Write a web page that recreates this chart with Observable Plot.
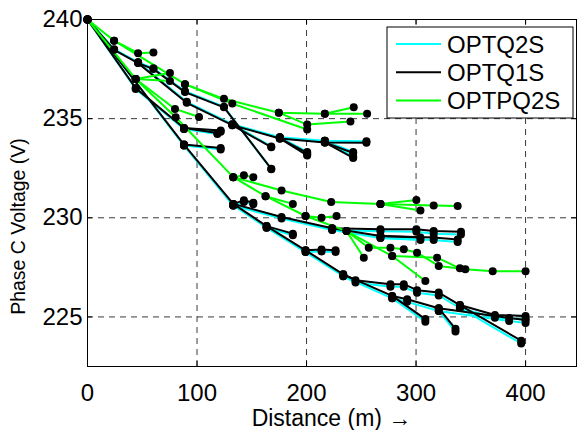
<!DOCTYPE html>
<html>
<head>
<meta charset="utf-8">
<script src="https://cdn.jsdelivr.net/npm/d3@7"></script>
<script src="https://cdn.jsdelivr.net/npm/@observablehq/plot@0.6"></script>
<style>
  html, body { margin: 0; padding: 0; background: white; }
  #chart { width: 577px; height: 430px; }
</style>
</head>
<body>
<div id="chart"></div>
<script>
// ---- Data (distance in m, voltage in V) ----
const seriesNames = ["OPTQ2S", "OPTQ1S", "OPTPQ2S"];
const seriesColors = ["#00ffff", "#000000", "#00ff00"];
const xTicks = [0, 100, 200, 300, 400];
const yTicks = [225, 230, 235, 240];

// OPTQ1S (black) branches
const q1sPaths = [
  [[0,240],[24.3,238.47],[46.2,237.8],[60.2,237.5],[89,236.34],[124.6,235.57],[167.8,232.47]],
  [[46.2,237.8],[90.6,235.8],[132.2,234.67],[175.6,234.0],[216.7,233.8],[254.7,233.78]],
  [[216.7,233.8],[242.6,233.27]],
  [[216.7,233.8],[242.6,233.02]],
  [[175.6,234.0],[200.6,233.27]],
  [[175.6,234.0],[200.6,233.14]],
  [[132.2,234.67],[167.8,233.56]],
  [[0,240],[44,236.54],[88.1,234.53],[118.6,234.28]],
  [[88.1,234.53],[121.6,234.4]],
  [[0,240],[88.1,233.69],[133.1,230.7],[177.2,230.04],[223.4,229.47],[267.5,229.42],[300.3,229.42],[316.1,229.33],[341,229.3]],
  [[88.1,233.69],[121.6,233.52]],
  [[133.1,230.7],[142.8,230.88],[151.4,230.76]],
  [[223.4,229.47],[267.5,229.08],[316.1,229.0],[338,228.9]],
  [[267.5,229.08],[304,229.0]],
  [[133.1,230.7],[163.5,229.58],[199.1,228.36],[233.5,227.15],[278.2,226.06],[308.5,224.89]],
  [[163.5,229.58],[187.5,229.2]],
  [[199.1,228.36],[213.7,228.4],[226.5,228.36]],
  [[233.5,227.15],[244.7,226.85],[276.6,226.65],[288.8,226.65],[300.9,226.35],[320.7,226.23],[340,225.6],[372,225.1],[400,225.05]],
  [[278.2,226.06],[291.9,225.89],[320.7,225.44],[336,224.4]],
  [[320.7,225.44],[385,224.95],[400,224.85]],
  [[340,225.6],[396,223.8]]
];

// OPTQ2S (cyan) branches
const q2sPaths = [
  [[0,240],[24.3,238.5],[46.2,237.84],[60.2,237.54],[89,236.38],[124.6,235.6],[167.8,232.45]],
  [[46.2,237.84],[90.6,235.85],[132.2,234.72],[175.6,234.06],[216.7,233.88],[254.7,233.86]],
  [[216.7,233.88],[242.6,233.32]],
  [[216.7,233.88],[242.6,233.08]],
  [[175.6,234.06],[200.6,233.32]],
  [[175.6,234.06],[200.6,233.2]],
  [[132.2,234.72],[167.8,233.6]],
  [[0,240],[44,236.5],[88.1,234.48],[118.6,234.22]],
  [[88.1,234.48],[121.6,234.34]],
  [[0,240],[88.1,233.64],[133.1,230.62],[177.2,229.96],[223.4,229.38],[267.5,229.32],[300.3,229.3],[316.1,229.2],[341,229.16]],
  [[88.1,233.64],[121.6,233.45]],
  [[133.1,230.62],[142.8,230.8],[151.4,230.68]],
  [[223.4,229.38],[267.5,228.98],[316.1,228.88],[338,228.78]],
  [[267.5,228.98],[304,228.88]],
  [[133.1,230.62],[163.5,229.5],[199.1,228.27],[233.5,227.05],[278.2,225.94],[308.5,224.76]],
  [[163.5,229.5],[187.5,229.12]],
  [[199.1,228.27],[213.7,228.3],[226.5,228.27]],
  [[233.5,227.05],[244.7,226.74],[276.6,226.52],[288.8,226.52],[300.9,226.22],[320.7,226.08],[340,225.45],[372,224.96],[400,224.9]],
  [[278.2,225.94],[291.9,225.76],[320.7,225.3],[336,224.26]],
  [[320.7,225.3],[385,224.8],[400,224.7]],
  [[340,225.45],[396,223.66]]
];

// OPTPQ2S (green) branches
const pq2sPaths = [
  [[0,240],[24.3,238.93],[46.2,238.3],[60.2,238.34]],
  [[24.3,238.93],[89,236.74],[124.6,236.0],[174.7,235.3],[216.7,235.25],[255.3,235.25]],
  [[216.7,235.25],[243.1,235.57]],
  [[89,236.74],[132.2,235.76],[200.6,234.45]],
  [[174.7,235.3],[200.6,234.7],[240.1,234.85]],
  [[0,240],[44,237.0],[75.3,237.3]],
  [[44,237.0],[75.3,236.9]],
  [[44,237.0],[79.9,235.49],[101.8,235.08]],
  [[44,237.0],[80.5,235.07],[133.1,232.05],[177.2,231.38],[222.5,230.8],[267.5,230.7],[300.3,230.9]],
  [[267.5,230.7],[316.1,230.62],[338,230.6]],
  [[267.5,230.7],[304,230.37]],
  [[133.1,232.05],[142.8,232.15],[151.4,232.05]],
  [[133.1,232.05],[162.6,231.09],[187.5,230.7]],
  [[162.6,231.09],[199.1,230.09],[213.7,230.0],[227.4,230.09]],
  [[199.1,230.09],[236.5,229.33],[256.8,228.49],[276.6,228.49],[288.8,228.41],[300.9,228.24],[320.7,227.57],[345,227.4],[370,227.3],[400,227.3]],
  [[236.5,229.33],[278.2,228.07],[308.5,226.81]],
  [[278.2,228.07],[319.2,227.99],[340,227.45]],
  [[236.5,229.33],[252.3,227.99]]
];

// ---- Build table ----
const allPaths = [q2sPaths, q1sPaths, pq2sPaths];
const rows = [];
allPaths.forEach((paths, s) => {
  paths.forEach((p, i) => {
    p.forEach(([x, y]) => rows.push({series: seriesNames[s], path: s + "-" + i, x, y}));
  });
});

const W = 577, H = 430;
const mL = 87, mR = 1, mT = 19, mB = 64;
const innerW = W - mL - mR, innerH = H - mT - mB;
const tick = 5;
const font = "'Liberation Sans', Arial, Helvetica, sans-serif";

const chart = Plot.plot({
  width: W,
  height: H,
  marginLeft: mL, marginRight: mR, marginTop: mT, marginBottom: mB,
  style: {fontFamily: font, fontSize: "24px", background: "white", color: "black"},
  x: {domain: [0, 446.5], label: null},
  y: {domain: [222.5, 240], label: null},
  marks: [
    // dashed grid
    Plot.ruleX(xTicks.filter(d => d > 0), {x: d => d, stroke: "#3a3a3a", strokeWidth: 1, strokeDasharray: "6,5"}),
    Plot.ruleY(yTicks.filter(d => d < 240), {y: d => d, stroke: "#3a3a3a", strokeWidth: 1, strokeDasharray: "6,5"}),
    // series lines
    ...seriesNames.map((name, s) =>
      Plot.line(rows.filter(r => r.series === name), {x: "x", y: "y", z: "path", stroke: seriesColors[s], strokeWidth: 2, strokeLinejoin: "round"})
    ),
    // node markers
    Plot.dot(rows, {x: "x", y: "y", r: 4, fill: "black", stroke: "none"}),
    // frame
    Plot.frame({stroke: "black", strokeWidth: 1}),
    // inward ticks
    Plot.ruleX(xTicks, {x: d => d, insetTop: innerH - tick, stroke: "black"}),
    Plot.ruleX(xTicks, {x: d => d, insetBottom: innerH - tick, stroke: "black"}),
    Plot.ruleY(yTicks, {y: d => d, insetRight: innerW - tick, stroke: "black"}),
    Plot.ruleY(yTicks, {y: d => d, insetLeft: innerW - tick, stroke: "black"}),
    // tick labels
    Plot.axisX({ticks: xTicks, tickSize: 0, tickPadding: 17, tickFormat: d => String(d), fontSize: 24, label: null}),
    Plot.axisY({ticks: yTicks, tickSize: 0, tickPadding: 5, tickFormat: d => String(d), fontSize: 24, label: null})
  ]
});

document.getElementById("chart").appendChild(chart);

// axis titles and legend added to the same SVG
const svg = d3.select(chart);
svg.append("text")
  .attr("x", mL + innerW / 2).attr("y", 426)
  .attr("text-anchor", "middle")
  .style("font-family", font).style("font-size", "23px").attr("fill", "black")
  .text("Distance (m) \u2192");
svg.append("text")
  .attr("transform", `translate(25,${mT + innerH / 2 + 34}) rotate(-90)`)
  .attr("text-anchor", "middle")
  .style("font-family", font).style("font-size", "19.5px").attr("fill", "black")
  .text("Phase C Voltage (V)");

const lg = svg.append("g");
lg.append("rect").attr("x", 387).attr("y", 27).attr("width", 186).attr("height", 91)
  .attr("fill", "white").attr("stroke", "black").attr("stroke-width", 1);
seriesNames.forEach((name, i) => {
  const yy = 44 + i * 28.3;
  lg.append("line").attr("x1", 396).attr("x2", 441).attr("y1", yy).attr("y2", yy)
    .attr("stroke", seriesColors[i]).attr("stroke-width", 2);
  lg.append("text").attr("x", 447).attr("y", yy + 8.5)
    .attr("text-anchor", "start")
    .style("font-family", font).style("font-size", "24px").attr("fill", "black")
    .text(name);
});
</script>
</body>
</html>
